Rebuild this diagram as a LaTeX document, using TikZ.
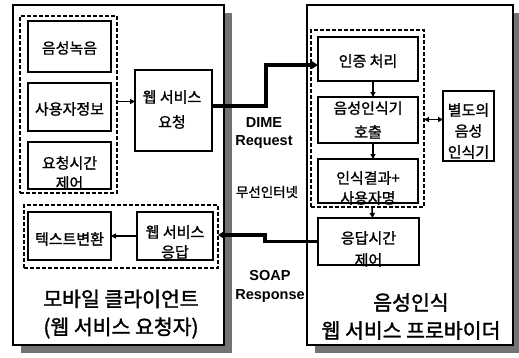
\documentclass[tikz,border=0pt]{standalone}
\usepackage{fontspec}
\setmainfont{Noto Sans CJK KR}[FakeBold=1.2]
\newfontfamily\krfont{Noto Sans CJK KR}[FakeBold=1.2]
\newfontfamily\krtitle{Noto Sans CJK KR}[FakeBold=1.6]
\newfontfamily\latfont{Liberation Sans}
\usetikzlibrary{arrows.meta}
\begin{document}
\begin{tikzpicture}[x=1pt,y=-1pt,
  big/.style={draw, line width=1.4pt, fill=white, inner sep=0pt, outer sep=0pt},
  shadowbox/.style={fill=black!55, draw=none},
  grp/.style={draw, dash pattern=on 4pt off 2pt, line width=1.3pt, inner sep=0pt, outer sep=0pt},
  box/.style={draw, line width=1.2pt, fill=white, inner sep=0pt, outer sep=0pt},
  txt/.style={align=center, inner sep=0pt, font=\krfont\fontsize{15}{20}\selectfont},
  ttl/.style={align=center, inner sep=0pt, font=\krtitle\fontsize{20.5}{28}\selectfont},
  lbl/.style={align=center, inner sep=0pt, font=\latfont\bfseries\fontsize{14.5}{18}\selectfont},
  thinarrow/.style={line width=1.6pt, -{Triangle[length=5pt,width=5pt]}},
  thickline/.style={line width=3.5pt, -{Triangle[length=6pt,width=7pt]}}]
\useasboundingbox (0,0) rectangle (519,357);
\fill[white] (0,0) rectangle (519,357);
% shadows
\fill[shadowbox] (21,13) rectangle (232,353);
\fill[shadowbox] (315,13) rectangle (519,353);
% big boxes
\node[big, minimum width=211pt, minimum height=340pt] (L) at (118.5,175) {};
\node[big, minimum width=206pt, minimum height=340pt] (R) at (410,175) {};
% left groups
\node[grp, minimum width=97pt, minimum height=177pt] (LG1) at (68.5,104.5) {};
\node[box, minimum width=83pt, minimum height=51pt] (A) at (69.5,46.5) {};
\node[box, minimum width=83pt, minimum height=48pt] (B) at (69.5,107) {};
\node[box, minimum width=83pt, minimum height=47pt] (C) at (69.5,165.5) {};
\node[box, minimum width=77pt, minimum height=81pt] (D) at (173.5,110.5) {};
\node[grp, minimum width=194pt, minimum height=63pt] (LG2) at (121,236.5) {};
\node[box, minimum width=83pt, minimum height=48pt] (E) at (69.5,236) {};
\node[box, minimum width=76pt, minimum height=48pt] (F) at (175,236) {};
% right groups
\node[grp, minimum width=113pt, minimum height=177pt] (RG) at (367.5,118.5) {};
\node[box, minimum width=100pt, minimum height=44pt] (G) at (368,59) {};
\node[box, minimum width=100pt, minimum height=46pt] (H) at (368,120) {};
\node[box, minimum width=100pt, minimum height=44pt] (I) at (368,181) {};
\node[box, minimum width=101pt, minimum height=47pt] (J) at (368.5,241.5) {};
\node[box, minimum width=51pt, minimum height=70pt] (K) at (468.5,126) {};
% texts
\node[txt] (At) at (69.5,48) {음성녹음};
\node[txt] (Bt) at (69.5,109) {사용자정보};
\node[txt, font=\krfont\fontsize{15}{20}\selectfont] (Ct) at (69.5,173) {요청시간\\제어};
\node[txt, font=\krfont\fontsize{15}{25}\selectfont] (Dt) at (172,109.5) {웹 서비스\\요청};
\node[txt] (Et) at (69.5,239) {텍스트변환};
\node[txt, font=\krfont\fontsize{15}{20}\selectfont] (Ft) at (175,242) {웹 서비스\\응답};
\node[txt] (Gt) at (368,61) {인증 처리};
\node[txt, font=\krfont\fontsize{15}{24}\selectfont] (Ht) at (368,120) {음성인식기\\호출};
\node[txt, font=\krfont\fontsize{15}{20}\selectfont] (It) at (368,188) {인식결과+\\사용자명};
\node[txt, font=\krfont\fontsize{15}{22}\selectfont] (Jt) at (368.5,249) {응답시간\\제어};
\node[txt, font=\krfont\fontsize{15}{21}\selectfont] (Kt) at (468.5,131) {별도의\\음성\\인식기};
\node[ttl] (Lt) at (121,314) {모바일 클라이언트\\(웹 서비스 요청자)};
\node[ttl] (Rt) at (411,316.5) {음성인식\\웹 서비스 프로바이더};
% labels
\node[lbl, font=\latfont\bfseries\fontsize{14.5}{18}\selectfont] (dime) at (264,133) {DIME\\Request};
\node[txt, font=\krfont\fontsize{13.5}{16}\selectfont] (wi) at (267,192) {무선인터넷};
\node[lbl, font=\latfont\bfseries\fontsize{14.5}{19}\selectfont] (soap) at (270,286) {SOAP\\Response};
% arrows
\draw[thinarrow] ([yshift=3pt]LG1.east) -- ([yshift=3pt]LG1.east -| D.west);
\draw[thinarrow] (F.west) -- (E.east);
\draw[thinarrow] ([xshift=5pt]G.south) -- ([xshift=5pt]H.north);
\draw[thinarrow] ([xshift=5pt]H.south) -- ([xshift=5pt]I.north);
\draw[thinarrow] ([xshift=4.5pt]RG.south) -- ([xshift=4pt]J.north);
\draw[line width=1.8pt, {Triangle[length=5pt,width=5pt]}-{Triangle[length=5pt,width=5pt]}] ([yshift=-1pt]RG.east) -- ([yshift=-1pt]RG.east -| K.west);
\draw[thickline] ([yshift=4.5pt]D.east) -| (266,85) |- ([yshift=-6pt]G.west);
\draw[thickline] (J.west) -| (265,238) |- ([yshift=1.5pt]LG2.east);
\end{tikzpicture}
\end{document}
